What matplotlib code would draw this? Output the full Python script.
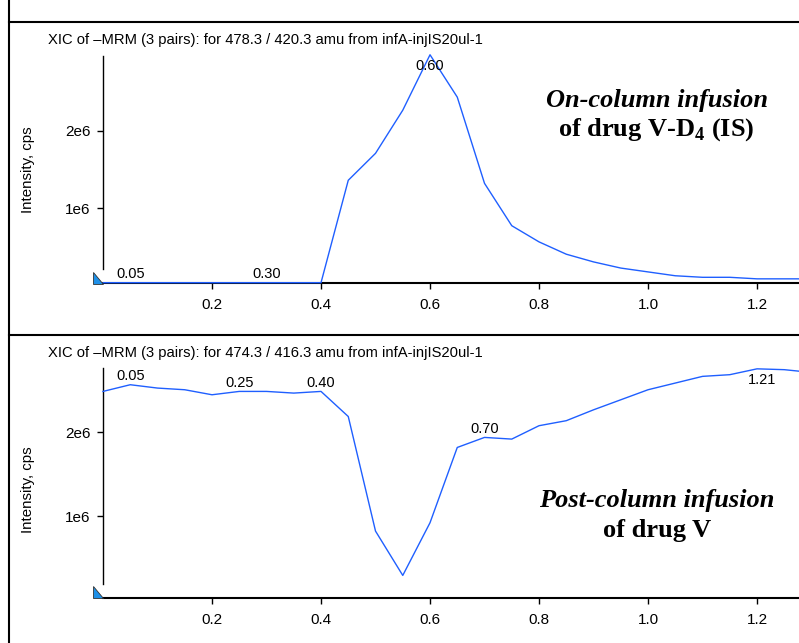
import numpy as np
import matplotlib.pyplot as plt
from matplotlib.patches import Polygon
from matplotlib.lines import Line2D

plt.rcParams['font.family'] = ['Liberation Sans', 'DejaVu Sans']
plt.rcParams['mathtext.fontset'] = 'custom'
plt.rcParams['mathtext.rm'] = 'Liberation Serif'
plt.rcParams['mathtext.bf'] = 'Liberation Serif:bold'

# retention time, min (one scan every 0.05 min)
time = [0.00, 0.05, 0.10, 0.15, 0.20, 0.25, 0.30, 0.35, 0.40, 0.45, 0.50, 0.55, 0.60,
        0.65, 0.70, 0.75, 0.80, 0.85, 0.90, 0.95, 1.00, 1.05, 1.10, 1.15, 1.20, 1.25, 1.28]

# on-column infusion of IS, cps
is_int = [0.03e6, 0.03e6, 0.03e6, 0.03e6, 0.03e6, 0.03e6, 0.03e6, 0.03e6, 0.03e6,
          1.36e6, 1.71e6, 2.27e6, 2.99e6, 2.44e6, 1.32e6, 0.77e6, 0.56e6, 0.40e6,
          0.30e6, 0.22e6, 0.17e6, 0.12e6, 0.10e6, 0.10e6, 0.08e6, 0.08e6, 0.08e6]

# post-column infusion of drug V, cps
drug_int = [2.49e6, 2.57e6, 2.53e6, 2.51e6, 2.45e6, 2.49e6, 2.49e6, 2.47e6, 2.49e6,
            2.19e6, 0.82e6, 0.29e6, 0.92e6, 1.82e6, 1.94e6, 1.92e6, 2.08e6, 2.14e6,
            2.27e6, 2.39e6, 2.51e6, 2.59e6, 2.67e6, 2.69e6, 2.76e6, 2.75e6, 2.73e6]

is_peaks = [0.05, 0.30, 0.60]
is_peak_below = [False, False, True]
drug_peaks = [0.05, 0.25, 0.40, 0.70, 1.21]
drug_peak_below = [False, False, False, False, True]

W, H = 799, 643
fig = plt.figure(figsize=(W / 100, H / 100), dpi=100)

blue = '#1f5fff'

def px(x, y):
    return x / W, 1 - y / H

def make_panel(rect, t, y, ylim, title, title_y, ylab_y):
    ax = fig.add_axes(rect)
    ax.plot(t, y, color=blue, lw=1.0, clip_on=False, zorder=3)
    ax.set_xlim(0, 1.277)
    ax.set_ylim(*ylim)
    ax.set_xticks([0.2, 0.4, 0.6, 0.8, 1.0, 1.2])
    ax.set_xticklabels(['0.2', '0.4', '0.6', '0.8', '1.0', '1.2'])
    ax.set_yticks([1e6, 2e6])
    ax.set_yticklabels(['1e6', '2e6'])
    ax.tick_params(axis='both', labelsize=11, length=4, width=1, pad=7, colors='black')
    ax.tick_params(axis='y', pad=5)
    for s in ['top', 'right']:
        ax.spines[s].set_visible(False)
    ax.spines['bottom'].set_linewidth(1.5)
    ax.spines['left'].set_linewidth(1.0)
    span = ylim[1] - ylim[0]
    ax.spines['left'].set_bounds(ylim[0] + 0.06 * span, ylim[1])
    ax.patch.set_alpha(0)
    fig.text(48 / W, 1 - title_y / H, title, fontsize=10.6, ha='left', va='center')
    fig.text(28 / W, 1 - ylab_y / H, 'Intensity, cps', fontsize=10.8, rotation=90,
             ha='center', va='center')
    return ax

def label_peaks(ax, t, y, peaks, below_flags):
    for p, below in zip(peaks, below_flags):
        v = np.interp(p, t, y)
        if below:
            ax.annotate('%.2f' % p, (p, v), xytext=(0, -3), textcoords='offset points',
                        ha='center', va='top', fontsize=10.5, annotation_clip=False)
        else:
            ax.annotate('%.2f' % p, (p, v), xytext=(0, 1), textcoords='offset points',
                        ha='center', va='bottom', fontsize=10.5, annotation_clip=False)

# top panel
ax1 = make_panel([103 / W, 1 - 283 / H, 1 - 103 / W, (283 - 56) / H], time, is_int,
                 (0.026e6, 2.974e6),
                 'XIC of \u2013MRM (3 pairs): for 478.3 / 420.3 amu from infA-injIS20ul-1',
                 40, 170)
label_peaks(ax1, time, is_int, is_peaks, is_peak_below)

# bottom panel
ax2 = make_panel([103 / W, 1 - 598 / H, 1 - 103 / W, (598 - 368) / H], time, drug_int,
                 (0.02e6, 2.77e6),
                 'XIC of \u2013MRM (3 pairs): for 474.3 / 416.3 amu from infA-injIS20ul-1',
                 353, 490)
label_peaks(ax2, time, drug_int, drug_peaks, drug_peak_below)

# annotations
serif = ['Liberation Serif', 'DejaVu Serif']
fig.text(657 / W, 1 - 100 / H, 'On-column infusion', family=serif, fontsize=19,
         fontweight='bold', style='italic', ha='center', va='center')
fig.text(656 / W, 1 - 130 / H, 'of drug V-D$_\\mathbf{4}$ (IS)', family=serif, fontsize=19,
         fontweight='bold', ha='center', va='center')
fig.text(657 / W, 1 - 500 / H, 'Post-column infusion', family=serif, fontsize=19,
         fontweight='bold', style='italic', ha='center', va='center')
fig.text(657 / W, 1 - 530 / H, 'of drug V', family=serif, fontsize=19,
         fontweight='bold', ha='center', va='center')

# origin markers
for ybase in [284, 598]:
    tri = Polygon([px(93, ybase - 12), px(93, ybase), px(103, ybase)], closed=True,
                  transform=fig.transFigure, facecolor='#1e90e8', edgecolor='#333333',
                  lw=0.6, zorder=5)
    fig.patches.append(tri)

# frame lines
for ln in [Line2D([9 / W, 9 / W], [0, 1]),
           Line2D([9 / W, 1], [1 - 22 / H, 1 - 22 / H]),
           Line2D([9 / W, 1], [1 - 335 / H, 1 - 335 / H])]:
    ln.set_transform(fig.transFigure)
    ln.set_color('black')
    ln.set_linewidth(1.5)
    fig.lines.append(ln)

fig.savefig('out.png', dpi=100)
